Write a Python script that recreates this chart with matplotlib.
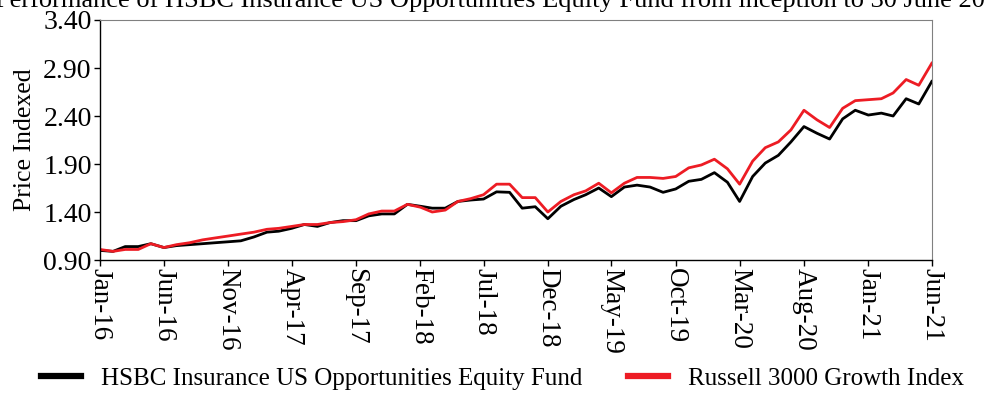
import pandas as pd
import matplotlib.pyplot as plt

plt.rcParams['font.family'] = ['Liberation Serif', 'DejaVu Serif']

dates = pd.date_range('2016-01-01', '2021-06-01', freq='MS')

fund = [1.00, 0.99, 1.04, 1.04, 1.07, 1.03, 1.05, 1.06, 1.07, 1.08, 1.09, 1.10,
        1.14, 1.19, 1.20, 1.23, 1.27, 1.25, 1.29, 1.31, 1.31, 1.36, 1.38, 1.38,
        1.48, 1.46, 1.44, 1.44, 1.51, 1.525, 1.535, 1.61, 1.605, 1.44, 1.455, 1.33,
        1.46, 1.53, 1.58, 1.65, 1.56, 1.66, 1.68, 1.66, 1.605, 1.64, 1.72, 1.74,
        1.81, 1.71, 1.51, 1.77, 1.91, 1.99, 2.13, 2.29, 2.22, 2.16, 2.37, 2.46,
        2.41, 2.43, 2.40, 2.58, 2.525, 2.76]

index = [1.01, 0.99, 1.01, 1.01, 1.07, 1.03, 1.06, 1.08, 1.11, 1.13, 1.15, 1.17,
         1.19, 1.22, 1.23, 1.25, 1.27, 1.27, 1.29, 1.30, 1.32, 1.38, 1.41, 1.41,
         1.48, 1.45, 1.40, 1.42, 1.51, 1.54, 1.58, 1.69, 1.69, 1.55, 1.55, 1.40,
         1.51, 1.58, 1.62, 1.70, 1.60, 1.70, 1.76, 1.76, 1.75, 1.77, 1.86, 1.89,
         1.95, 1.85, 1.69, 1.93, 2.07, 2.13, 2.255, 2.46, 2.36, 2.28, 2.48, 2.56,
         2.57, 2.58, 2.64, 2.78, 2.72, 2.95]

fig = plt.figure(figsize=(9.85, 4.04), dpi=100)
ax = fig.add_axes([0.1015, 0.3564, 0.8445, 0.5941])

ax.plot(dates, fund, color='black', lw=2, label='HSBC Insurance US Opportunities Equity Fund')
ax.plot(dates, index, color='#ED1C24', lw=2, label='Russell 3000 Growth Index')

ax.set_xlim(dates[0], dates[-1])
ax.set_ylim(0.9, 3.4)
ax.set_yticks([0.90, 1.40, 1.90, 2.40, 2.90, 3.40])
ax.set_yticklabels([f'{v:.2f}' for v in ax.get_yticks()], fontsize=20)
ticks = dates[::5]
ax.set_xticks(ticks)
ax.set_xticklabels([d.strftime('%b-%y') for d in ticks], rotation=270, fontsize=19.5)
ax.tick_params(axis='both', direction='out', length=4, width=1, pad=2)
ax.set_ylabel('Price Indexed', fontsize=18.5, labelpad=5)

for side in ['top', 'right']:
    ax.spines[side].set_color('#808080')
    ax.spines[side].set_linewidth(0.8)
for side in ['left', 'bottom']:
    ax.spines[side].set_color('black')
    ax.spines[side].set_linewidth(1.0)

fig.text(-0.005, 0.982, 'Performance of HSBC Insurance US Opportunities Equity Fund from inception to 30 June 2021',
         fontsize=19, ha='left', va='baseline')

leg = fig.legend(loc='lower center', bbox_to_anchor=(0.51, -0.02), ncol=2, frameon=False,
                 fontsize=18, handlelength=1.6, columnspacing=1.8, handletextpad=0.8)
for line in leg.get_lines():
    line.set_linewidth(4.5)

fig.savefig('out.png', dpi=100)
